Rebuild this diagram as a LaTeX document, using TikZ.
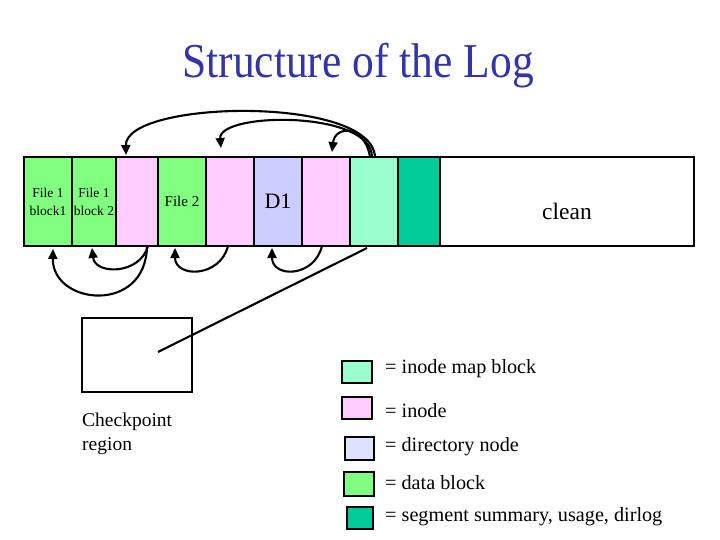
\documentclass[tikz,border=0pt]{standalone}
\usepackage{fontspec}
\setmainfont{Liberation Serif}
\usetikzlibrary{arrows.meta}
\definecolor{datag}{HTML}{80FF80}
\definecolor{inodep}{HTML}{FFCCFF}
\definecolor{dirb}{HTML}{CCCCFF}
\definecolor{dirl}{HTML}{E0E0FF}
\definecolor{imap}{HTML}{99FFCC}
\definecolor{segs}{HTML}{00CC99}
\definecolor{titleblue}{RGB}{51,51,170}
\begin{document}
\begin{tikzpicture}[x=1pt,y=-1pt,
  blk/.style={draw=black, line width=2.2pt, anchor=north west, minimum height=89pt,
              inner sep=0pt, outer sep=0pt, align=center},
  legbox/.style={draw=black, line width=2.2pt, inner sep=0pt, outer sep=0pt,
                 anchor=north west},
  legtxt/.style={anchor=west, inner sep=0pt, font=\fontsize{20.2}{24}\selectfont},
  arr/.style={-{Triangle[length=10pt,width=9pt]}, line width=2.1pt},
  plain/.style={line width=2.1pt}]
\useasboundingbox[fill=white] (0,0) rectangle (720,540);

% title
\node[anchor=base, inner sep=0pt, text=titleblue, font=\fontsize{43.5}{50}\selectfont]
  (title) at (358,78) {\scalebox{1}[1.12]{Structure of the Log}};

% log blocks
\node[blk, fill=datag, minimum width=48pt, font=\fontsize{13.5}{18}\selectfont] (b1) at (24,157) {File 1\\block1};
\node[blk, fill=datag, minimum width=44pt, font=\fontsize{13.5}{18}\selectfont] (b2) at (72,157) {File 1\\block 2};
\node[blk, fill=inodep, minimum width=42pt] (b3) at (116,157) {};
\node[blk, fill=datag, minimum width=48pt, font=\fontsize{15}{18}\selectfont] (b4) at (158,157) {File 2};
\node[blk, fill=inodep, minimum width=48pt] (b5) at (206,157) {};
\node[blk, fill=dirb, minimum width=48pt, font=\fontsize{22}{26}\selectfont] (b6) at (254,157) {D1};
\node[blk, fill=inodep, minimum width=48pt] (b7) at (302,157) {};
\node[blk, fill=imap, minimum width=48pt] (b8) at (350,157) {};
\node[blk, fill=segs, minimum width=42pt] (b9) at (398,157) {};
\node[blk, fill=white, minimum width=254pt] (clean) at (440,157) {};
\node[inner sep=0pt, font=\fontsize{23.5}{28}\selectfont] (cleantxt) at (567,211) {clean};

% top arrows (inode map -> inodes)
\draw[arr] ([xshift=1pt]b8.north) .. controls (372,95) and (125,100) .. ([xshift=-11pt,yshift=2pt]b3.north);
\draw[arr] ([xshift=-2pt]b8.north) .. controls (372,110) and (218,112) .. ([xshift=-9pt,yshift=9pt]b5.north);
\draw[arr] ([xshift=-4pt]b8.north) .. controls (365,125) and (335,125) .. ([xshift=6pt,yshift=5pt]b7.north);

% bottom arrows (inodes -> data blocks)
\draw[arr] ([xshift=11pt]b3.south) .. controls (140,275) and (95,275) .. ([xshift=-2pt,yshift=-2pt]b2.south);
\draw[arr] ([xshift=10pt]b3.south) .. controls (146,315) and (52,305) .. ([xshift=5pt,yshift=-3pt]b1.south);
\draw[arr] ([xshift=-2pt]b5.south) .. controls (220,278) and (175,278) .. ([xshift=-7pt,yshift=-2pt]b4.south);
\draw[arr] ([xshift=-4pt]b7.south) .. controls (314,278) and (272,278) .. ([xshift=-6pt,yshift=-2pt]b6.south);

% checkpoint region
\node[draw=black, line width=2.2pt, minimum width=110pt, minimum height=74pt, inner sep=0pt] (cp) at (137,355) {};
\draw[plain] ([xshift=-7pt,yshift=-2pt]b8.south) -- ([xshift=21pt,yshift=3pt]cp.center);
\node[anchor=north west, align=left, inner sep=0pt, font=\fontsize{19.5}{24}\selectfont] (cptxt) at (82,413)
  {Checkpoint\\region};

% legend
\node[legbox, fill=imap, minimum width=30pt, minimum height=22pt] (l1) at (342,361) {};
\node[legtxt] (t1) at (385,369) {= inode map block};
\node[legbox, fill=inodep, minimum width=30pt, minimum height=22pt] (l2) at (342,397) {};
\node[legtxt] (t2) at (385,411) {= inode};
\node[legbox, fill=dirl, minimum width=29pt, minimum height=23pt] (l3) at (345,437) {};
\node[legtxt] (t3) at (385,447) {= directory node};
\node[legbox, fill=datag, minimum width=30pt, minimum height=24pt] (l4) at (344,472) {};
\node[legtxt] (t4) at (385,483) {= data block};
\node[legbox, fill=segs, minimum width=26pt, minimum height=22pt] (l5) at (347,507) {};
\node[legtxt] (t5) at (385,517) {= segment summary, usage, dirlog};
\end{tikzpicture}
\end{document}
